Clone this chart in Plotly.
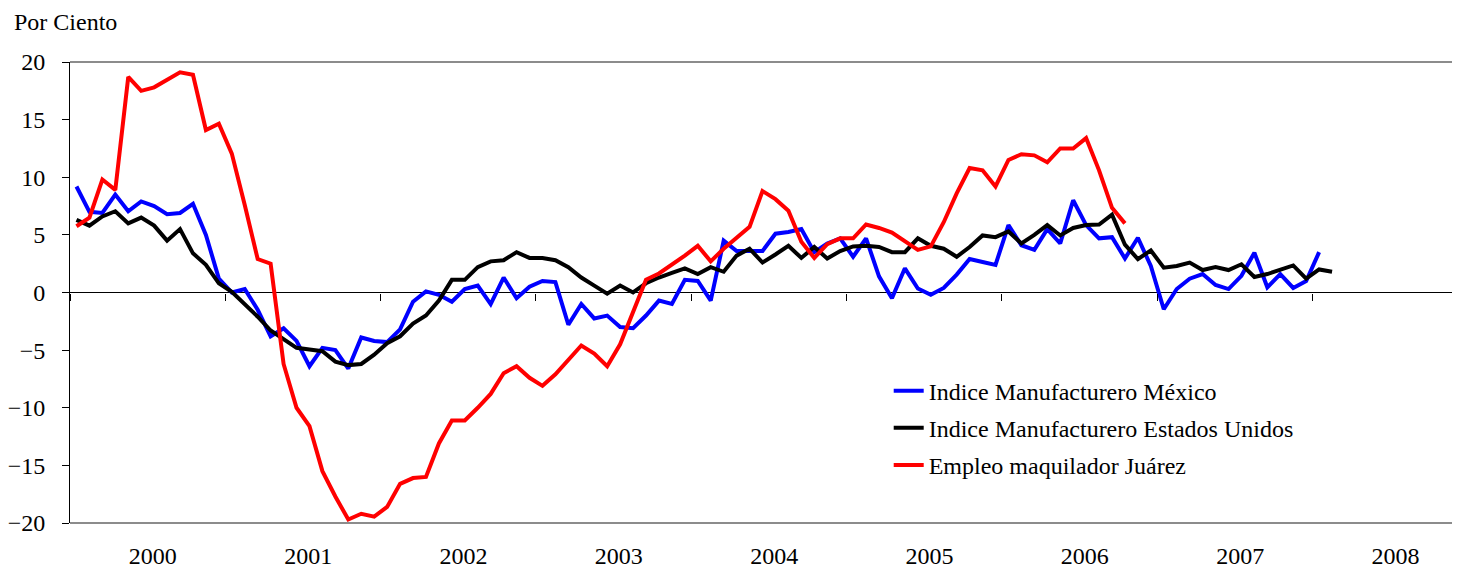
import plotly.graph_objects as go

# Monthly series, Jan 2000 onward (percent change)
mexico = [9.2, 7.0, 6.9, 8.5, 7.05, 7.9, 7.5, 6.8, 6.9, 7.7, 5.0, 1.2,
          0.0, 0.3, -1.5, -3.8, -3.1, -4.2, -6.4, -4.8, -5.0, -6.6, -3.9, -4.2,
          -4.3, -3.2, -0.8, 0.1, -0.2, -0.8, 0.3, 0.6, -1.0, 1.3, -0.5, 0.5,
          1.0, 0.9, -2.8, -1.0, -2.25, -2.0, -3.0, -3.1, -2.0, -0.7, -1.0, 1.1,
          1.0, -0.7, 4.5, 3.6, 3.6, 3.6, 5.1, 5.25, 5.5, 3.5, 4.25, 4.7,
          3.1, 4.7, 1.4, -0.5, 2.1, 0.35, -0.2, 0.4, 1.55, 2.9, 2.65, 2.4,
          5.85, 4.1, 3.7, 5.5, 4.25, 8.0, 5.85, 4.7, 4.8, 2.95, 4.75, 2.3,
          -1.45, 0.3, 1.2, 1.6, 0.65, 0.3, 1.45, 3.45, 0.45, 1.6, 0.4, 1.0,
          3.5]
usa = [6.3, 5.8, 6.6, 7.05, 6.0, 6.5, 5.8, 4.5, 5.5, 3.4, 2.4, 0.8,
       0.05, -1.0, -2.1, -3.3, -4.1, -4.8, -4.95, -5.1, -6.0, -6.3, -6.2, -5.4,
       -4.4, -3.8, -2.7, -2.0, -0.7, 1.1, 1.1, 2.2, 2.7, 2.8, 3.5, 3.0,
       3.0, 2.8, 2.2, 1.3, 0.6, -0.1, 0.6, 0.0, 0.8, 1.3, 1.7, 2.1,
       1.6, 2.2, 1.8, 3.2, 3.8, 2.6, 3.3, 4.05, 3.0, 3.95, 2.95, 3.6,
       4.0, 4.05, 3.95, 3.5, 3.5, 4.7, 4.05, 3.8, 3.1, 3.95, 4.95, 4.8,
       5.3, 4.25, 5.0, 5.85, 4.95, 5.6, 5.85, 5.9, 6.75, 4.15, 2.9, 3.65,
       2.15, 2.3, 2.6, 1.95, 2.2, 1.95, 2.45, 1.35, 1.6, 2.0, 2.35, 1.2,
       2.0, 1.8]
juarez = [5.75, 6.5, 9.8, 8.9, 18.7, 17.5, 17.8, 18.5, 19.1, 18.9, 14.1, 14.65,
          12.05, 7.6, 2.9, 2.5, -6.2, -10.0, -11.6, -15.5, -17.7, -19.7, -19.2, -19.45,
          -18.6, -16.6, -16.1, -16.0, -13.1, -11.1, -11.1, -10.0, -8.8, -7.0, -6.4, -7.4,
          -8.1, -7.1, -5.9, -4.6, -5.3, -6.4, -4.5, -1.7, 1.1, 1.65, 2.4, 3.2,
          4.05, 2.7, 3.8, 4.8, 5.7, 8.8, 8.1, 7.1, 4.4, 3.0, 4.2, 4.7,
          4.7, 5.9, 5.6, 5.2, 4.5, 3.7, 4.0, 6.1, 8.6, 10.8, 10.6, 9.2,
          11.5, 12.0, 11.9, 11.3, 12.5, 12.5, 13.4, 10.6, 7.35, 6.0]

years = ["2000", "2001", "2002", "2003", "2004", "2005", "2006", "2007", "2008"]
series_names = ["Indice Manufacturero México",
                "Indice Manufacturero Estados Unidos",
                "Empleo maquilador Juárez"]
y_ticks = [-20, -15, -10, -5, 0, 5, 10, 15, 20]

FONT = "Liberation Serif"
FS = 24
months_per_year = 12
x_max = -0.5 + (1452 - 56) / 13.0

fig = go.Figure()
for name, vals, col in [(series_names[0], mexico, "#0000FF"),
                        (series_names[1], usa, "#000000"),
                        (series_names[2], juarez, "#FF0000")]:
    fig.add_trace(go.Scatter(x=list(range(len(vals))), y=vals, mode="lines",
                             name=name, legendgroup=name,
                             line=dict(color=col, width=4)))

# helper trace for the tick-mark axis on the zero line
fig.add_trace(go.Scatter(x=[None], y=[None], xaxis="x2", showlegend=False,
                         hoverinfo="skip", mode="lines"))

year_centers = [months_per_year * k + 5.9 for k in range(len(years))]
year_bounds = [months_per_year * k - 0.5 for k in range(len(years) + 1)]

fig.update_layout(
    width=1452, height=563,
    margin=dict(l=56, r=0, t=54, b=48),
    plot_bgcolor="white", paper_bgcolor="white",
    font=dict(family=FONT, size=FS, color="black"),
    showlegend=True,
    legend=dict(x=0.589, y=0.335, xanchor="left", yanchor="top",
                bgcolor="rgba(0,0,0,0)", borderwidth=0,
                traceorder="grouped", tracegroupgap=3,
                font=dict(family=FONT, size=FS, color="black")),
    xaxis=dict(range=[-0.5, x_max], tickmode="array", tickvals=year_centers,
               ticktext=years, ticks="", showline=False, showgrid=False,
               zeroline=False, ticklabelstandoff=16,
               tickfont=dict(family=FONT, size=FS, color="black")),
    xaxis2=dict(range=[-0.5, x_max], overlaying="x", anchor="free", position=0.5,
                side="bottom", tickmode="array", tickvals=year_bounds,
                ticks="outside", ticklen=7, tickwidth=1, tickcolor="black",
                showticklabels=False, showline=False, showgrid=False,
                zeroline=False),
    yaxis=dict(range=[-20, 20], tickmode="array", tickvals=y_ticks,
               ticks="outside", ticklen=7, tickwidth=1, tickcolor="black",
               showline=True, linecolor="black", linewidth=1,
               showgrid=False, zeroline=True, zerolinecolor="black",
               zerolinewidth=1, ticklabelstandoff=12,
               tickfont=dict(family=FONT, size=FS, color="black")),
    shapes=[
        dict(type="line", xref="paper", yref="paper", x0=0, x1=1, y0=1, y1=1,
             line=dict(color="#8c8c8c", width=2)),
        dict(type="line", xref="paper", yref="paper", x0=0, x1=1, y0=0, y1=0,
             line=dict(color="#8c8c8c", width=2)),
    ],
    annotations=[
        dict(text="Por Ciento", xref="paper", yref="paper", x=0, y=1,
             xanchor="left", yanchor="middle", xshift=-58, yshift=40,
             showarrow=False, font=dict(family=FONT, size=FS, color="black")),
    ],
)

fig.write_html("out.html")
